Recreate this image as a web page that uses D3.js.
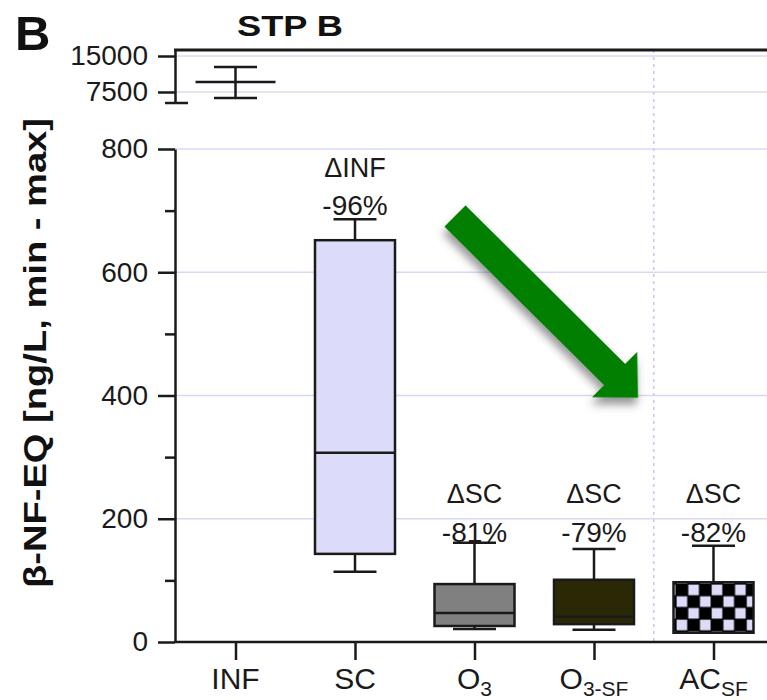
<!DOCTYPE html>
<html>
<head>
<meta charset="utf-8">
<script src="https://cdn.jsdelivr.net/npm/d3@7"></script>
<style>
  body { margin: 0; background: #fff; }
  svg { display: block; font-family: "Liberation Sans", Arial, sans-serif; }
</style>
</head>
<body>
<div id="chart"></div>
<script>
// box plot values (ng/L)
const categories = ['INF', 'SC', 'O3', 'O3-SF', 'ACSF'];
const mins    = [6250, 114, 21, 20, 15];
const q1s     = [9580, 143, 26, 29, 15];
const medians = [9580, 307, 47, 41, 40];
const q3s     = [9580, 652, 94, 101, 97];
const maxs    = [12700, 686, 161, 151, 156];

const fills = ['none', '#dcdcfa', '#808080', '#2b2905', 'url(#checker)'];
const deltaRefs = ['', '\u0394INF', '\u0394SC', '\u0394SC', '\u0394SC'];
const deltaPct  = ['', '-96%', '-81%', '-79%', '-82%'];

const mainTicks = [0, 200, 400, 600, 800];
const minorTicks = [100, 300, 500, 700];
const topTicks = [7500, 15000];

const boxes = categories.map((c, i) => ({
  cat: c, min: mins[i], q1: q1s[i], med: medians[i], q3: q3s[i], max: maxs[i],
  fill: fills[i], ref: deltaRefs[i], pct: deltaPct[i]
}));

const width = 767, height = 700;
const axisX = 175;
const ink = '#1a1a1a';
const grid = '#d8d8f6';

const svg = d3.select('#chart').append('svg')
  .attr('width', width)
  .attr('height', height);

const defs = svg.append('defs');
const pat = defs.append('pattern')
  .attr('id', 'checker')
  .attr('patternUnits', 'userSpaceOnUse')
  .attr('x', 676).attr('y', 584)
  .attr('width', 23.4).attr('height', 23.4);
pat.append('rect').attr('width', 23.4).attr('height', 23.4).attr('fill', '#000');
pat.append('rect').attr('x', 0.6).attr('y', 12.3).attr('width', 10.6).attr('height', 10.6).attr('fill', '#dcdcf8');
pat.append('rect').attr('x', 12.3).attr('y', 0.6).attr('width', 10.6).attr('height', 10.6).attr('fill', '#dcdcf8');

const shadow = defs.append('filter').attr('id', 'shadow')
  .attr('x', '-20%').attr('y', '-20%').attr('width', '150%').attr('height', '150%');
shadow.append('feDropShadow')
  .attr('dx', 4).attr('dy', 6).attr('stdDeviation', 4)
  .attr('flood-color', '#444').attr('flood-opacity', 0.55);

const x = d3.scalePoint()
  .domain(categories)
  .range([235.5, 713.5]);

const yMain = d3.scaleLinear()
  .domain([0, 800])
  .range([642, 149]);

const yTop = d3.scaleLinear()
  .domain([5208, 16250])
  .range([103, 50]);

// the INF values sit on the broken upper segment
const yOf = v => v > 1000 ? yTop(v) : yMain(v);

// gridlines
svg.append('g')
  .selectAll('line')
  .data(mainTicks.filter(d => d > 0))
  .join('line')
    .attr('x1', axisX).attr('x2', width)
    .attr('y1', d => yMain(d)).attr('y2', d => yMain(d))
    .attr('stroke', grid).attr('stroke-width', 1.5);

svg.append('g')
  .selectAll('line')
  .data(topTicks)
  .join('line')
    .attr('x1', axisX).attr('x2', width)
    .attr('y1', d => yTop(d)).attr('y2', d => yTop(d))
    .attr('stroke', grid).attr('stroke-width', 1.5);

// dotted separator before AC
const sepX = (x('O3-SF') + x('ACSF')) / 2;
svg.append('line')
  .attr('x1', sepX).attr('x2', sepX)
  .attr('y1', 50).attr('y2', 642)
  .attr('stroke', '#c8c8f0').attr('stroke-width', 1.5)
  .attr('stroke-dasharray', '3,4');

// axes
svg.append('g')
  .attr('transform', `translate(${axisX},0)`)
  .call(d3.axisLeft(yMain).tickValues(mainTicks).tickSize(17).tickSizeOuter(0).tickPadding(10));

svg.append('g')
  .attr('transform', `translate(${axisX},0)`)
  .call(d3.axisLeft(yMain).tickValues(minorTicks).tickSize(10).tickFormat(''))
  .call(g => g.select('.domain').remove());

svg.append('g')
  .attr('transform', `translate(${axisX},0)`)
  .call(d3.axisLeft(yTop).tickValues(topTicks).tickFormat(d3.format('d'))
    .tickSize(17).tickSizeOuter(0).tickPadding(10));

svg.selectAll('.tick line, .domain')
  .attr('stroke', ink).attr('stroke-width', 2.5);
svg.selectAll('.tick text')
  .attr('font-size', 28).attr('font-family', null).attr('fill', ink);

// axis break cap and top frame
svg.append('line')
  .attr('x1', 165).attr('x2', 188)
  .attr('y1', yTop.range()[0]).attr('y2', yTop.range()[0])
  .attr('stroke', ink).attr('stroke-width', 2.5);
svg.append('line')
  .attr('x1', axisX - 1).attr('x2', width)
  .attr('y1', yTop.range()[1]).attr('y2', yTop.range()[1])
  .attr('stroke', ink).attr('stroke-width', 3);

// x axis
const xAxis = svg.append('g')
  .attr('transform', `translate(0,${yMain(0)})`)
  .call(d3.axisBottom(x).tickSize(18).tickFormat(''))
  .call(g => g.select('.domain').remove());
xAxis.selectAll('.tick line').attr('stroke', ink).attr('stroke-width', 2.5);
svg.append('line')
  .attr('x1', axisX - 1).attr('x2', width)
  .attr('y1', yMain(0)).attr('y2', yMain(0))
  .attr('stroke', ink).attr('stroke-width', 2.5);

const labelParts = {
  'INF': ['INF', ''], 'SC': ['SC', ''], 'O3': ['O', '3'],
  'O3-SF': ['O', '3-SF'], 'ACSF': ['AC', 'SF']
};
const xLabels = svg.append('g')
  .selectAll('text')
  .data(categories)
  .join('text')
    .attr('x', d => x(d))
    .attr('y', 689)
    .attr('text-anchor', 'middle')
    .attr('font-size', 30)
    .attr('fill', ink);
xLabels.append('tspan').text(d => labelParts[d][0]);
xLabels.append('tspan')
  .attr('font-size', 21)
  .attr('dy', 7)
  .text(d => labelParts[d][1]);

// boxes
const boxW = 80, capW = 43;
const g = svg.append('g');

g.selectAll('.whisker')
  .data(boxes)
  .join('line')
    .attr('class', 'whisker')
    .attr('x1', d => x(d.cat)).attr('x2', d => x(d.cat))
    .attr('y1', d => yOf(d.max)).attr('y2', d => yOf(d.min))
    .attr('stroke', ink).attr('stroke-width', 2.5);

g.selectAll('.cap-hi')
  .data(boxes)
  .join('line')
    .attr('class', 'cap-hi')
    .attr('x1', d => x(d.cat) - capW / 2).attr('x2', d => x(d.cat) + capW / 2)
    .attr('y1', d => yOf(d.max)).attr('y2', d => yOf(d.max))
    .attr('stroke', ink).attr('stroke-width', 2.5);

g.selectAll('.cap-lo')
  .data(boxes)
  .join('line')
    .attr('class', 'cap-lo')
    .attr('x1', d => x(d.cat) - capW / 2).attr('x2', d => x(d.cat) + capW / 2)
    .attr('y1', d => yOf(d.min)).attr('y2', d => yOf(d.min))
    .attr('stroke', ink).attr('stroke-width', 2.5);

g.selectAll('.box')
  .data(boxes.filter(d => d.q3 > d.q1))
  .join('rect')
    .attr('class', 'box')
    .attr('x', d => x(d.cat) - boxW / 2)
    .attr('width', boxW)
    .attr('y', d => yOf(d.q3))
    .attr('height', d => yOf(d.q1) - yOf(d.q3))
    .attr('fill', d => d.fill)
    .attr('stroke', ink).attr('stroke-width', 2.5);

g.selectAll('.median')
  .data(boxes.filter(d => !d.fill.startsWith('url')))
  .join('line')
    .attr('class', 'median')
    .attr('x1', d => x(d.cat) - boxW / 2).attr('x2', d => x(d.cat) + boxW / 2)
    .attr('y1', d => yOf(d.med)).attr('y2', d => yOf(d.med))
    .attr('stroke', ink).attr('stroke-width', 2.5);

// reduction annotations
const notes = boxes.filter(d => d.ref);
svg.append('g')
  .selectAll('text')
  .data(notes)
  .join('text')
    .attr('x', d => x(d.cat))
    .attr('y', d => d.cat === 'SC' ? 177 : 503)
    .attr('text-anchor', 'middle')
    .attr('font-size', 27)
    .attr('fill', ink)
    .text(d => d.ref);
svg.append('g')
  .selectAll('text')
  .data(notes)
  .join('text')
    .attr('x', d => x(d.cat))
    .attr('y', d => d.cat === 'SC' ? 215 : 542)
    .attr('text-anchor', 'middle')
    .attr('font-size', 28)
    .attr('fill', ink)
    .text(d => d.pct);

// green arrow
const arrowLen = 258;
svg.append('path')
  .attr('transform', 'translate(455,216) rotate(44.8)')
  .attr('d', `M0,-15 L${arrowLen - 33},-15 L${arrowLen - 33},-32 L${arrowLen},0 L${arrowLen - 33},32 L${arrowLen - 33},15 L0,15 Z`)
  .attr('fill', '#037f03')
  .attr('filter', 'url(#shadow)');

// titles
svg.append('text')
  .attr('x', 15).attr('y', 50)
  .attr('font-size', 49).attr('font-weight', 'bold')
  .attr('fill', '#111')
  .text('B');

svg.append('text')
  .attr('x', 237).attr('y', 36)
  .attr('font-size', 30).attr('font-weight', 'bold')
  .attr('textLength', 106).attr('lengthAdjust', 'spacingAndGlyphs')
  .attr('fill', '#111')
  .text('STP B');

svg.append('text')
  .attr('transform', 'translate(46,353) rotate(-90)')
  .attr('text-anchor', 'middle')
  .attr('font-size', 31).attr('font-weight', 'bold')
  .attr('textLength', 470).attr('lengthAdjust', 'spacingAndGlyphs')
  .attr('fill', '#111')
  .text('\u03b2-NF-EQ [ng/L, min - max]');
</script>
</body>
</html>
